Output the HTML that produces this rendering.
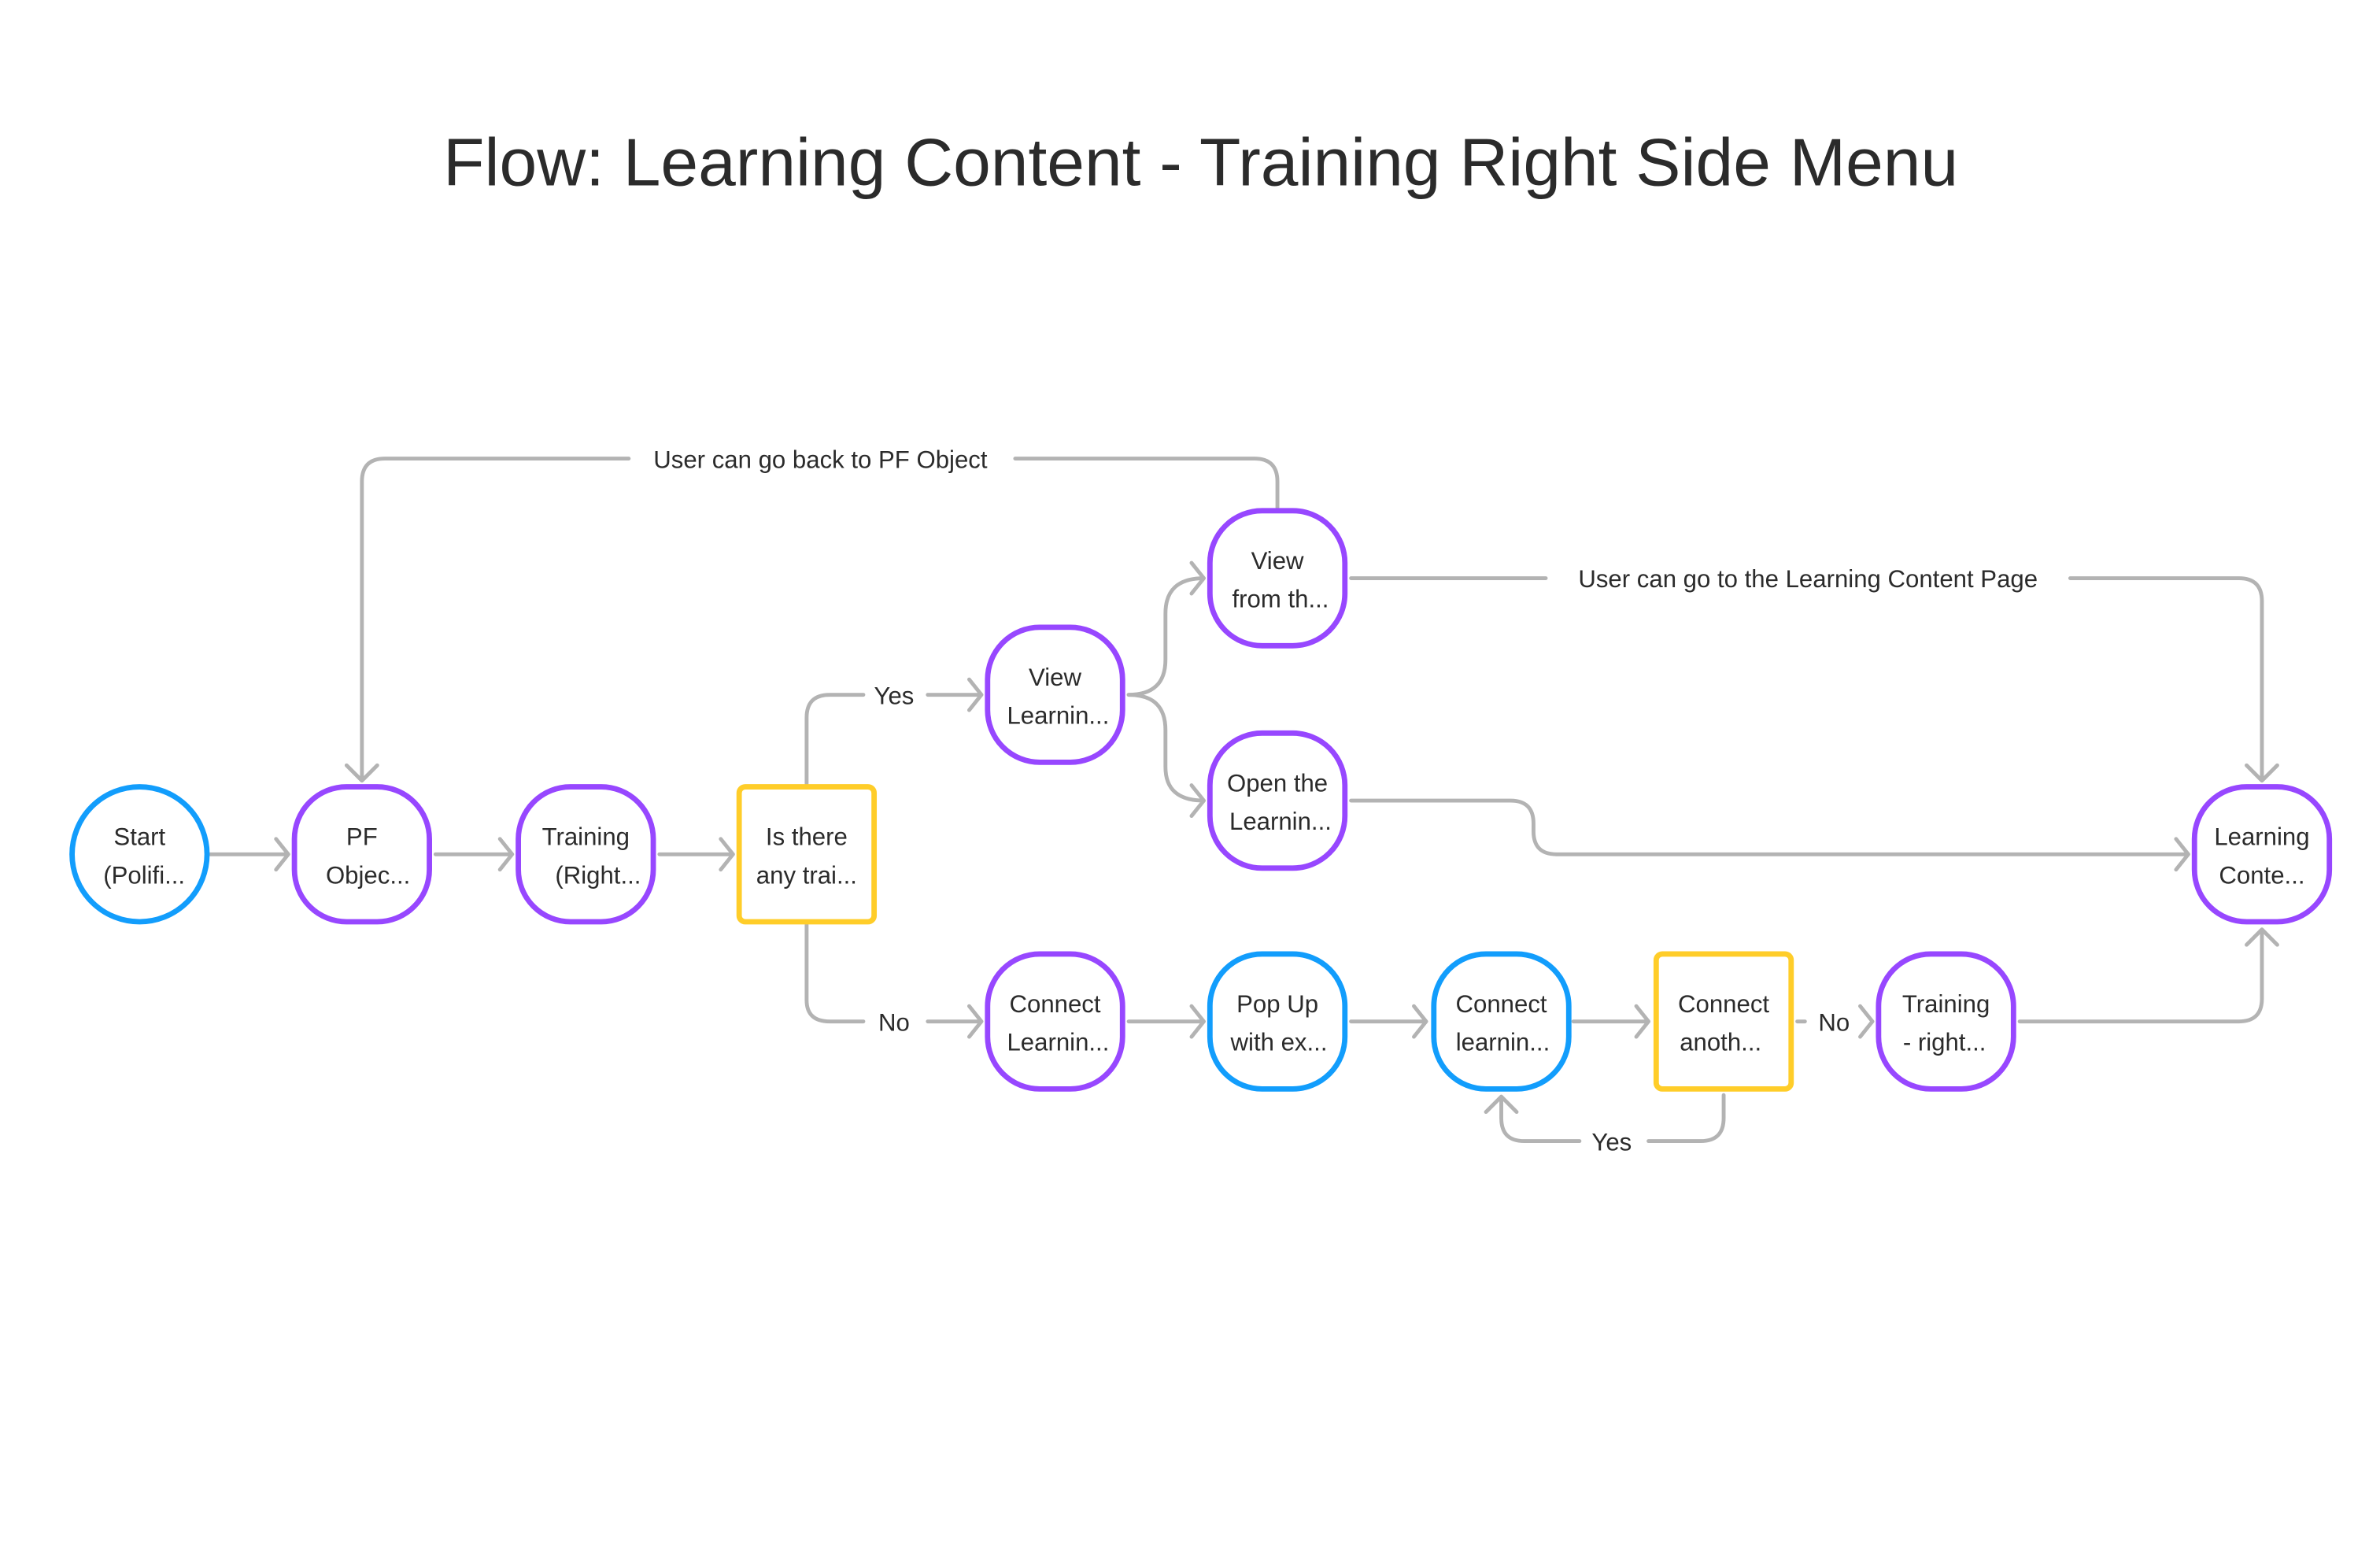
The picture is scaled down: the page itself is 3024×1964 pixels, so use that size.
<!DOCTYPE html>
<html><head><meta charset="utf-8"><style>
html,body{margin:0;padding:0;background:#fff;}
svg{display:block;}
text{font-family:"Liberation Sans",sans-serif;fill:#2b2b2b;}
</style></head><body>
<svg width="3024" height="1964" viewBox="0 0 1552 1008" preserveAspectRatio="none" xmlns="http://www.w3.org/2000/svg">
<text x="783" y="121" font-size="44" text-anchor="middle" fill="#111">Flow: Learning Content - Training Right Side Menu</text>
<g fill="none" stroke="#b3b3b3" stroke-width="2.5" stroke-linecap="round" stroke-linejoin="round">
<path d="M137 557H188M180 547L188 557L180 567"/>
<path d="M284 557H334M326 547L334 557L326 567"/>
<path d="M430 557H478M470 547L478 557L470 567"/>
<path d="M526 511V468Q526 453 541 453H563"/>
<path d="M605 453H640M632 443L640 453L632 463"/>
<path d="M526 603V652Q526 666 541 666H563"/>
<path d="M605 666H640M632 656L640 666L632 676"/>
<path d="M736 453Q760 453 760 430V400Q760 377 785 377M777 367L785 377L777 387"/>
<path d="M736 453Q760 453 760 476V500Q760 522 785 522M777 512L785 522L777 532"/>
<path d="M833 331V314Q833 299 818 299H662"/>
<path d="M410 299H251Q236 299 236 314V509M226 499L236 509L246 499"/>
<path d="M881 377H1008"/>
<path d="M1350 377H1460Q1475 377 1475 392V509M1465 499L1475 509L1485 499"/>
<path d="M881 522H985Q1000 522 1000 537V542Q1000 557 1015 557H1427M1419 547L1427 557L1419 567"/>
<path d="M736 666H785M777 656L785 666L777 676"/>
<path d="M881 666H930M922 656L930 666L922 676"/>
<path d="M1026 666H1075M1067 656L1075 666L1067 676"/>
<path d="M1172 666H1177"/>
<path d="M1213 656L1221 666L1213 676"/>
<path d="M1317 666H1460Q1475 666 1475 651V606M1465 616L1475 606L1485 616"/>
<path d="M1124 714V729Q1124 744 1109 744H1075"/>
<path d="M1030 744H994Q979 744 979 729V715M969 725L979 715L989 725"/>
</g>
<g font-size="16" text-anchor="middle">
<text x="583" y="459">Yes</text>
<text x="583" y="672">No</text>
<text x="535" y="305">User can go back to PF Object</text>
<text x="1179" y="383">User can go to the Learning Content Page</text>
<text x="1196" y="672">No</text>
<text x="1051" y="750">Yes</text>
</g>
<g fill="#fff" stroke-width="3.5">
<ellipse cx="91" cy="557" rx="44" ry="44" stroke="#129dfc"/>
<rect x="192" y="513" width="88" height="88" rx="34" stroke="#9747ff"/>
<rect x="338" y="513" width="88" height="88" rx="34" stroke="#9747ff"/>
<rect x="482" y="513" width="88" height="88" rx="4" stroke="#ffcd29"/>
<rect x="1431" y="513" width="88" height="88" rx="34" stroke="#9747ff"/>
<rect x="644" y="409" width="88" height="88" rx="34" stroke="#9747ff"/>
<rect x="789" y="333" width="88" height="88" rx="34" stroke="#9747ff"/>
<rect x="789" y="478" width="88" height="88" rx="34" stroke="#9747ff"/>
<rect x="644" y="622" width="88" height="88" rx="34" stroke="#9747ff"/>
<rect x="789" y="622" width="88" height="88" rx="34" stroke="#129dfc"/>
<rect x="935" y="622" width="88" height="88" rx="34" stroke="#129dfc"/>
<rect x="1080" y="622" width="88" height="88" rx="4" stroke="#ffcd29"/>
<rect x="1225" y="622" width="88" height="88" rx="34" stroke="#9747ff"/>
</g>
<g font-size="16" text-anchor="middle">
<text x="91" y="551">Start</text><text x="94" y="576">(Polifi...</text>
<text x="236" y="551">PF</text><text x="240" y="576">Objec...</text>
<text x="382" y="551">Training</text><text x="390" y="576">(Right...</text>
<text x="526" y="551">Is there</text><text x="526" y="576">any trai...</text>
<text x="1475" y="551">Learning</text><text x="1475" y="576">Conte...</text>
<text x="688" y="447">View</text><text x="690" y="472">Learnin...</text>
<text x="833" y="371">View</text><text x="835" y="396">from th...</text>
<text x="833" y="516">Open the</text><text x="835" y="541">Learnin...</text>
<text x="688" y="660">Connect</text><text x="690" y="685">Learnin...</text>
<text x="833" y="660">Pop Up</text><text x="834" y="685">with ex...</text>
<text x="979" y="660">Connect</text><text x="980" y="685">learnin...</text>
<text x="1124" y="660">Connect</text><text x="1122" y="685">anoth...</text>
<text x="1269" y="660">Training</text><text x="1268" y="685">- right...</text>
</g>
</svg>
</body></html>
